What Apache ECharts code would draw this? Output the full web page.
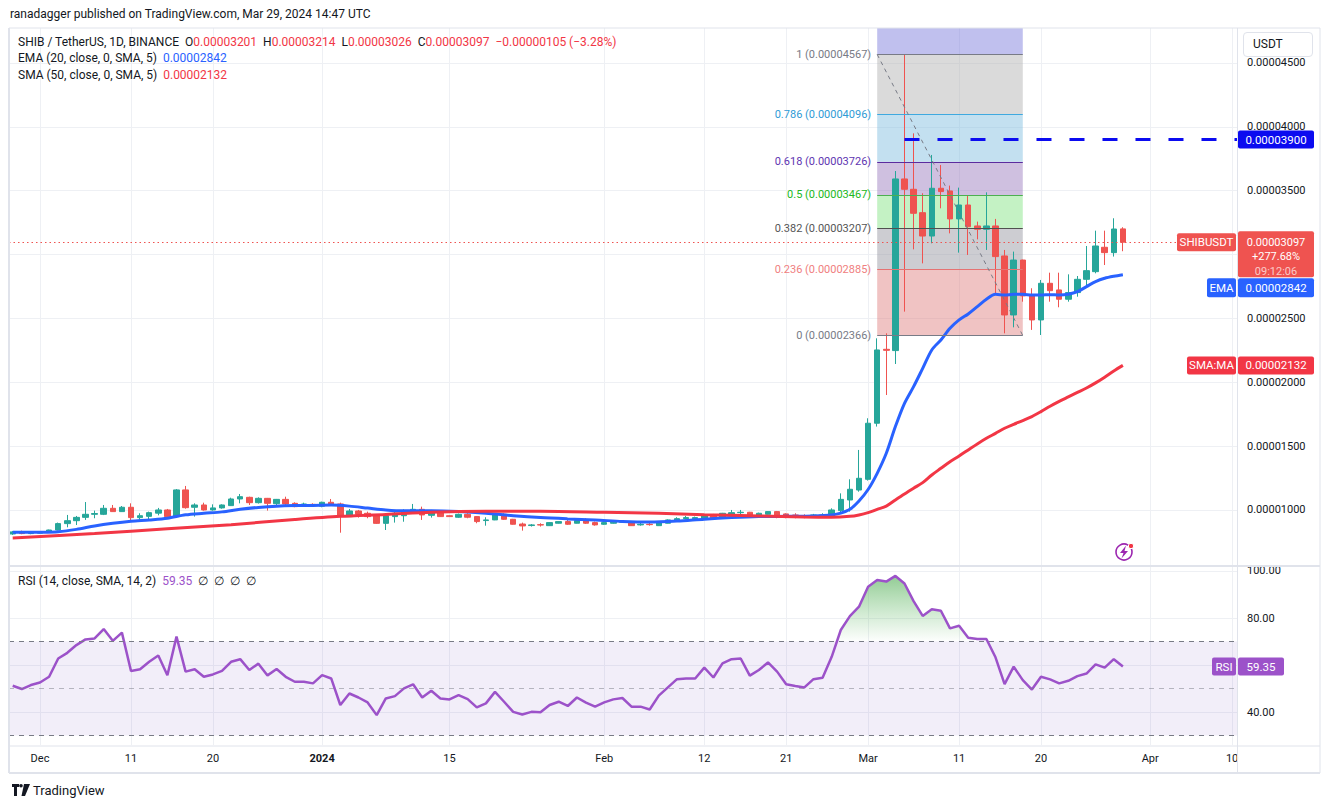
<!DOCTYPE html>
<html>
<head>
<meta charset="utf-8">
<title>SHIB / TetherUS 1D</title>
<script src="https://cdn.jsdelivr.net/npm/echarts@6/dist/echarts.min.js"></script>
<style>
  html, body { margin: 0; padding: 0; background: #fff; }
  #wrap { position: relative; width: 1329px; height: 809px; overflow: hidden; font-family: Roboto, 'Liberation Sans', sans-serif; color: #131722; }
  #chart { position: absolute; left: 0; top: 0; width: 1329px; height: 809px; }
  .txt { position: absolute; white-space: nowrap; font-size: 12px; line-height: 16px; }
  .red { color: #f23645; }
  .blue { color: #2962ff; }
  .purple { color: #9c52c9; }
  #usdt { position: absolute; left: 1243px; top: 32px; width: 68px; height: 23px; border: 1px solid #e0e3eb; border-radius: 4px; background: #fff; font-size: 12px; line-height: 23px; padding-left: 0; text-indent: 9px; }
</style>
</head>
<body>
<div id="wrap">
  <div id="chart"></div>
  <div class="txt" style="left:10px;top:6px;">ranadagger published on TradingView.com, Mar 29, 2024 14:47 UTC</div>
  <div class="txt" style="left:18px;top:34px;">SHIB / TetherUS, 1D, BINANCE&nbsp; O<span class="red">0.00003201</span>&nbsp; H<span class="red">0.00003214</span>&nbsp; L<span class="red">0.00003026</span>&nbsp; C<span class="red">0.00003097</span>&nbsp; <span class="red">−0.00000105 (−3.28%)</span></div>
  <div class="txt" style="left:18px;top:50px;">EMA (20, close, 0, SMA, 5)&nbsp; <span class="blue">0.00002842</span></div>
  <div class="txt" style="left:18px;top:67px;">SMA (50, close, 0, SMA, 5)&nbsp; <span class="red">0.00002132</span></div>
  <div class="txt" style="left:18px;top:573px;">RSI (14, close, SMA, 14, 2)&nbsp; <span class="purple">59.35</span>&nbsp; ∅&nbsp; ∅&nbsp; ∅&nbsp; ∅</div>
  <div id="usdt">USDT</div>
  <div class="txt" style="left:12px;top:783px;font-size:13px;">
    <svg width="18" height="12" viewBox="0 0 18 12" style="vertical-align:-1px"><path d="M0 0h7v3H5v9H2V3H0z" fill="#131722"/><circle cx="9" cy="1.8" r="1.8" fill="#131722"/><path d="M12 0h6l-5 12h-3.5z" fill="#131722"/></svg>
    TradingView
  </div>
</div>
<script>
// prices are in units of 1e-8 USDT
const START = '2023-11-28';
const X_MIN = -0.407;
const X_MAX = 134.54;
const Y_MIN = 569;
const Y_MAX = 4774;

// daily candles from 2023-11-28 to 2024-03-29: [open, high, low, close]
const ohlc = [
  [812, 835, 805, 828], [828, 838, 810, 815], [815, 822, 810, 818],
  // Dec
  [818, 835, 815, 830], [830, 846, 826, 843], [843, 901, 840, 893], [893, 961, 864, 916],
  [916, 953, 882, 942], [942, 1062, 922, 966], [966, 995, 935, 972], [966, 1039, 960, 1013],
  [1013, 1039, 985, 987], [987, 1031, 985, 1021], [1021, 1052, 908, 940], [940, 974, 922, 955],
  [950, 987, 916, 979], [975, 1016, 958, 1000], [1000, 1008, 945, 948], [948, 1164, 945, 1157],
  [1157, 1188, 1010, 1018], [1021, 1052, 948, 1039], [1039, 1057, 995, 1000], [1000, 1044, 995, 1016],
  [1016, 1044, 1010, 1039], [1034, 1096, 1031, 1086], [1086, 1125, 1052, 1104], [1099, 1104, 1039, 1057],
  [1057, 1099, 1050, 1091], [1091, 1094, 995, 1052], [1049, 1086, 1031, 1083], [1083, 1104, 1039, 1047],
  [1052, 1060, 1021, 1026], [1036, 1057, 1031, 1047], [1044, 1052, 1026, 1034],
  // Jan
  [1029, 1065, 1021, 1060], [1060, 1086, 1036, 1039], [1047, 1057, 822, 948], [948, 1008, 945, 992],
  [992, 1000, 940, 966], [974, 987, 935, 948], [955, 958, 890, 895], [895, 958, 843, 955],
  [948, 1000, 901, 974], [955, 1005, 908, 992], [979, 1047, 979, 1005], [1005, 1026, 922, 961],
  [958, 1000, 940, 987], [984, 995, 945, 948], [955, 958, 945, 948], [943, 972, 938, 966],
  [966, 974, 935, 943], [948, 950, 896, 909], [917, 943, 877, 922], [922, 974, 920, 961],
  [966, 974, 922, 927], [927, 930, 885, 888], [890, 901, 838, 875], [878, 890, 870, 883],
  [885, 896, 870, 882], [877, 904, 875, 901], [896, 912, 894, 909], [909, 922, 883, 888],
  [896, 927, 894, 917], [917, 935, 890, 896], [901, 909, 877, 883],
  // Feb
  [888, 904, 883, 901], [896, 909, 893, 904], [904, 912, 901, 909], [909, 912, 875, 877],
  [883, 909, 877, 888], [888, 901, 877, 885], [877, 912, 875, 909], [896, 927, 894, 922],
  [911, 943, 909, 932], [932, 953, 927, 940], [932, 948, 930, 940], [927, 966, 922, 956],
  [964, 969, 927, 935], [935, 977, 932, 974], [966, 1000, 964, 979], [979, 1000, 966, 982],
  [982, 985, 940, 943], [953, 979, 950, 974], [966, 990, 964, 987], [987, 992, 935, 953],
  [969, 974, 935, 943], [961, 974, 935, 948], [953, 966, 935, 943], [943, 969, 940, 961],
  [953, 974, 950, 961], [950, 1013, 948, 1000], [995, 1130, 975, 1083], [1078, 1240, 987, 1162],
  [1156, 1470, 1143, 1248],
  // Mar
  [1240, 1718, 1230, 1679], [1679, 2344, 1653, 2253], [2258, 2383, 1900, 2250], [2248, 3654, 2143, 3592],
  [3592, 4567, 2553, 3511], [3511, 3949, 3041, 3323], [3328, 3480, 2931, 3145], [3145, 3780, 3088, 3519],
  [3519, 3701, 3362, 3493], [3498, 3540, 3166, 3279], [3279, 3524, 3015, 3388], [3388, 3466, 2997, 3218],
  [3224, 3258, 3119, 3198], [3198, 3487, 3036, 3224], [3224, 3279, 2696, 2984], [2989, 3036, 2383, 2527],
  [2527, 3023, 2430, 2957], [2957, 2960, 2631, 2676], [2684, 2736, 2410, 2488], [2488, 2801, 2370, 2775],
  [2775, 2858, 2631, 2717], [2723, 2858, 2587, 2650], [2650, 2845, 2631, 2702], [2702, 2832, 2670, 2806],
  [2806, 3067, 2749, 2874], [2866, 3187, 2853, 3067], [3057, 3187, 2918, 3015], [3015, 3284, 2984, 3200],
  [3201, 3214, 3026, 3097]
];

// EMA 20
const ema20Pts = [
  ['2023-11-28', 825], ['2023-12-01', 826], ['2023-12-03', 830], ['2023-12-05', 848], ['2023-12-07', 875],
  ['2023-12-09', 896], ['2023-12-11', 912], ['2023-12-13', 922], ['2023-12-15', 935], ['2023-12-17', 962],
  ['2023-12-19', 974], ['2023-12-21', 985], ['2023-12-23', 1005], ['2023-12-25', 1020], ['2023-12-27', 1030],
  ['2023-12-29', 1034], ['2023-12-31', 1035], ['2024-01-02', 1038], ['2024-01-04', 1030], ['2024-01-06', 1015],
  ['2024-01-08', 1000], ['2024-01-10', 993], ['2024-01-13', 993], ['2024-01-16', 987], ['2024-01-19', 974],
  ['2024-01-22', 955], ['2024-01-25', 940], ['2024-01-28', 930], ['2024-01-31', 922], ['2024-02-03', 910],
  ['2024-02-06', 905], ['2024-02-09', 913], ['2024-02-12', 928], ['2024-02-15', 940], ['2024-02-18', 948],
  ['2024-02-21', 950], ['2024-02-24', 953], ['2024-02-26', 961], ['2024-02-27', 975], ['2024-02-28', 1005],
  ['2024-02-29', 1070], ['2024-03-01', 1160], ['2024-03-02', 1287], ['2024-03-03', 1444], ['2024-03-04', 1653],
  ['2024-03-05', 1835], ['2024-03-06', 1966], ['2024-03-07', 2109], ['2024-03-08', 2253], ['2024-03-09', 2331],
  ['2024-03-10', 2422], ['2024-03-11', 2488], ['2024-03-12', 2535], ['2024-03-13', 2592], ['2024-03-14', 2650],
  ['2024-03-15', 2689], ['2024-03-16', 2683], ['2024-03-17', 2689], ['2024-03-18', 2689], ['2024-03-19', 2683],
  ['2024-03-20', 2683], ['2024-03-21', 2686], ['2024-03-22', 2683], ['2024-03-23', 2689], ['2024-03-24', 2709],
  ['2024-03-25', 2749], ['2024-03-26', 2788], ['2024-03-27', 2814], ['2024-03-28', 2830], ['2024-03-29', 2842]
];

// SMA 50
const sma50Pts = [
  ['2023-11-28', 780], ['2023-12-07', 815], ['2023-12-15', 852], ['2023-12-22', 885], ['2023-12-29', 925],
  ['2024-01-03', 950], ['2024-01-08', 965], ['2024-01-13', 983], ['2024-01-19', 990], ['2024-01-25', 990],
  ['2024-02-01', 982], ['2024-02-07', 974], ['2024-02-12', 963], ['2024-02-18', 953], ['2024-02-23', 945],
  ['2024-02-26', 943], ['2024-02-28', 950], ['2024-02-29', 961], ['2024-03-01', 979], ['2024-03-02', 1005],
  ['2024-03-03', 1030], ['2024-03-04', 1078], ['2024-03-05', 1125], ['2024-03-06', 1170], ['2024-03-07', 1214],
  ['2024-03-08', 1274], ['2024-03-09', 1326], ['2024-03-10', 1378], ['2024-03-11', 1423], ['2024-03-12', 1470],
  ['2024-03-13', 1517], ['2024-03-14', 1561], ['2024-03-15', 1600], ['2024-03-16', 1640], ['2024-03-17', 1671],
  ['2024-03-18', 1700], ['2024-03-19', 1731], ['2024-03-20', 1770], ['2024-03-21', 1812], ['2024-03-22', 1850],
  ['2024-03-23', 1885], ['2024-03-24', 1920], ['2024-03-25', 1955], ['2024-03-26', 1995], ['2024-03-27', 2040],
  ['2024-03-28', 2088], ['2024-03-29', 2132]
];

// RSI 14, one value per candle
const rsi14 = [
  51.2, 49.8, 51.5,
  52.6, 55.0, 62.8, 65.2, 68.5, 70.9, 71.3, 75.3, 70.3, 73.8, 57.5, 58.2, 61.4, 64.1, 55.7, 72.1,
  57.2, 58.2, 55.0, 56.0, 57.5, 61.4, 62.5, 57.9, 60.6, 55.6, 58.3, 55.0, 52.9, 52.9, 52.2,
  55.7, 54.3, 43.0, 47.9, 46.2, 44.1, 38.7, 45.8, 46.8, 50.1, 51.8, 46.2, 49.1, 45.8, 45.4, 47.2,
  45.5, 42.0, 43.7, 48.6, 44.4, 40.1, 39.0, 40.1, 39.9, 43.0, 44.4, 42.6, 46.2, 44.0, 42.3,
  44.1, 45.4, 46.0, 42.3, 42.3, 41.1, 47.0, 50.5, 54.0, 54.3, 54.3, 58.9, 54.7, 60.7, 62.5,
  62.8, 55.5, 57.9, 61.1, 57.2, 51.8, 51.1, 50.5, 54.0, 54.6, 63.5, 74.9, 80.8, 84.8,
  93.3, 96.2, 95.5, 97.9, 94.7, 87.2, 80.9, 83.7, 83.1, 75.6, 76.7, 71.6, 71.1, 71.1, 63.3,
  51.9, 59.3, 53.6, 49.6, 55.0, 53.9, 52.2, 53.3, 55.3, 56.4, 60.3, 58.9, 62.5, 59.35
];

const xTicks = [
  ['2023-12-01', 'Dec'], ['2023-12-11', '11'], ['2023-12-20', '20'], ['2024-01-01', '2024'],
  ['2024-01-15', '15'], ['2024-02-01', 'Feb'], ['2024-02-12', '12'], ['2024-02-21', '21'],
  ['2024-03-01', 'Mar'], ['2024-03-11', '11'], ['2024-03-20', '20'], ['2024-04-01', 'Apr'], ['2024-04-10', '10']
];
// grid lines; the 3000 and 60 labels sit under the price / RSI tags, so they are not printed
const priceTicks = [1000, 1500, 2000, 2500, 3000, 3500, 4000, 4500];
const priceLabels = [1000, 1500, 2000, 2500, 3500, 4000, 4500];
const rsiTicks = [40, 60, 80, 100];
const rsiLabels = [40, 80, 100];

const fibRatios = ['0', '0.236', '0.382', '0.5', '0.618', '0.786', '1'];
const fibPrices = [2366, 2885, 3207, 3467, 3726, 4096, 4567];
const FIB_FROM = '2024-03-02';
const FIB_TO = '2024-03-18';
const RES_FROM = '2024-03-05';
const RESISTANCE = 3900;
const LAST = { price: 3097, change: '+277.68%', timer: '09:12:06', ema: 2842, sma: 2132, rsi: 59.35 };

const UP = '#26a69a';
const DOWN = '#ef5350';
const GRID = '#eef0f4';
const FRAME = '#e0e3eb';
const RSI_COLOR = '#9c52c9';
const FIB_LINE = ['#787b86', '#e57373', '#505050', '#4caf50', '#5b2c9f', '#3fa9df', '#787b86'];
const FIB_TEXT = ['#787b86', '#f08080', '#555555', '#22b822', '#5e35b1', '#2f9bd6', '#787b86'];
const FIB_FILL = ['rgba(222,122,122,0.45)', 'rgba(144,144,155,0.45)', 'rgba(124,226,124,0.45)',
  'rgba(148,115,186,0.45)', 'rgba(122,186,222,0.45)', 'rgba(173,173,173,0.45)', 'rgba(115,115,217,0.45)'];

function dayIndex(s) {
  const [y, m, d] = s.split('-').map(Number);
  const [y0, m0, d0] = START.split('-').map(Number);
  return Math.round((Date.UTC(y, m - 1, d) - Date.UTC(y0, m0 - 1, d0)) / 86400000);
}
const fmtPrice = v => (v * 1e-8).toFixed(8);

const tickIdx = xTicks.map(t => dayIndex(t[0]));
const tickName = {};
xTicks.forEach(t => { tickName[dayIndex(t[0])] = t[1]; });

const candleData = ohlc.map((r, i) => [i, r[0], r[3], r[2], r[1]]);
const emaData = ema20Pts.map(p => [dayIndex(p[0]), p[1]]);
const smaData = sma50Pts.map(p => [dayIndex(p[0]), p[1]]);
const rsiData = rsi14.map((v, i) => [i, v]);

const f0 = dayIndex(FIB_FROM), f1 = dayIndex(FIB_TO);
const fibZones = fibPrices.map((p, i) => [
  { coord: [f0, p], itemStyle: { color: FIB_FILL[i] } },
  { coord: [f1, i < fibPrices.length - 1 ? fibPrices[i + 1] : Y_MAX] }
]);
const fibLines = fibPrices.map((p, i) => [
  {
    coord: [f0, p],
    lineStyle: { color: FIB_LINE[i], width: 1, type: 'solid' },
    label: { show: true, position: 'start', distance: 6, color: FIB_TEXT[i], fontSize: 11, fontFamily: 'Roboto',
      formatter: `${fibRatios[i]} (${fmtPrice(p)})` }
  },
  { coord: [f1, p] }
]);
fibLines.push([
  { coord: [f0, fibPrices[6]], lineStyle: { color: '#787b86', width: 1, type: [4, 4] }, label: { show: false } },
  { coord: [f1, fibPrices[0]] }
]);

const chart = echarts.init(document.getElementById('chart'), null, { renderer: 'svg' });

const xBase = {
  type: 'value', min: X_MIN, max: X_MAX,
  axisLine: { show: false },
  axisTick: { show: false, customValues: tickIdx },
  splitLine: { show: true, lineStyle: { color: GRID, width: 1 } }
};
const yLabel = { color: '#131722', fontSize: 11, fontFamily: 'Roboto', margin: 10 };

const option = {
  animation: false,
  backgroundColor: '#fff',
  grid: [
    { left: 9, top: 28, width: 1228, height: 537 },
    { left: 9, top: 567, width: 1228, height: 178 }
  ],
  xAxis: [
    Object.assign({}, xBase, { gridIndex: 0, axisLabel: { show: false } }),
    Object.assign({}, xBase, {
      gridIndex: 1,
      axisLabel: {
        show: true, customValues: tickIdx, color: '#131722', fontSize: 11, fontFamily: 'Roboto', margin: 8,
        formatter: v => (tickName[v] === '2024' ? '{b|2024}' : (tickName[v] || '')),
        rich: { b: { fontWeight: 'bold', fontSize: 11, fontFamily: 'Roboto', color: '#131722' } }
      }
    })
  ],
  yAxis: [
    {
      type: 'value', gridIndex: 0, position: 'right', min: Y_MIN, max: Y_MAX, splitNumber: 8,
      axisLine: { show: false }, axisTick: { show: false, customValues: priceTicks },
      splitLine: { lineStyle: { color: GRID } },
      axisLabel: Object.assign({ customValues: priceLabels, formatter: fmtPrice }, yLabel)
    },
    {
      type: 'value', gridIndex: 1, position: 'right', min: 26, max: 101.7, splitNumber: 4,
      axisLine: { show: false }, axisTick: { show: false, customValues: rsiTicks },
      splitLine: { lineStyle: { color: GRID } },
      axisLabel: Object.assign({ customValues: rsiLabels, formatter: v => v.toFixed(2) }, yLabel)
    }
  ],
  series: [
    {
      name: 'fib', type: 'line', xAxisIndex: 0, yAxisIndex: 0, data: [], z: 1, silent: true,
      markArea: { silent: true, data: fibZones },
      markLine: { silent: true, symbol: ['none', 'none'], data: fibLines }
    },
    {
      name: 'SHIBUSDT', type: 'candlestick', xAxisIndex: 0, yAxisIndex: 0, z: 2,
      encode: { x: 0, y: [1, 2, 3, 4] },
      data: candleData, barWidth: 6,
      itemStyle: { color: UP, color0: DOWN, borderColor: UP, borderColor0: DOWN, borderWidth: 1 },
      markLine: {
        silent: true, symbol: ['none', 'none'], label: { show: false },
        data: [{ yAxis: LAST.price, lineStyle: { color: DOWN, width: 1, type: [1.5, 3] } }]
      }
    },
    {
      name: 'EMA', type: 'line', xAxisIndex: 0, yAxisIndex: 0, z: 3, data: emaData,
      smooth: 0.3, showSymbol: false, lineStyle: { color: '#2962ff', width: 3 }
    },
    {
      name: 'SMA', type: 'line', xAxisIndex: 0, yAxisIndex: 0, z: 3, data: smaData,
      smooth: 0.3, showSymbol: false, lineStyle: { color: '#f23645', width: 3 }
    },
    {
      name: 'resistance', type: 'line', xAxisIndex: 0, yAxisIndex: 0, z: 5, data: [], silent: true,
      markLine: {
        silent: true, symbol: ['none', 'none'], label: { show: false },
        data: [[
          { coord: [dayIndex(RES_FROM), RESISTANCE], lineStyle: { color: '#0b0bf0', width: 3, type: [15, 18] } },
          { coord: [X_MAX, RESISTANCE] }
        ]]
      }
    },
    {
      id: 'rsiFill', name: 'rsiFill', type: 'line', xAxisIndex: 1, yAxisIndex: 1, z: 1, data: rsiData,
      showSymbol: false, silent: true, lineStyle: { width: 0 },
      areaStyle: { origin: 70, color: 'rgba(0,0,0,0)' },
      markArea: { silent: true, itemStyle: { color: 'rgba(126,87,194,0.1)' }, data: [[{ yAxis: 30 }, { yAxis: 70 }]] },
      markLine: {
        silent: true, symbol: ['none', 'none'], label: { show: false },
        data: [
          { yAxis: 70, lineStyle: { color: '#787b86', width: 1, type: [5, 5] } },
          { yAxis: 50, lineStyle: { color: 'rgba(120,123,134,0.5)', width: 1, type: [5, 5] } },
          { yAxis: 30, lineStyle: { color: '#787b86', width: 1, type: [5, 5] } }
        ]
      }
    },
    {
      name: 'RSI', type: 'line', xAxisIndex: 1, yAxisIndex: 1, z: 3, data: rsiData,
      showSymbol: false, lineStyle: { color: RSI_COLOR, width: 2.5 }
    }
  ]
};

chart.setOption(option);

// pixel helpers from the chart's own scales
const yPx = v => chart.convertToPixel({ yAxisIndex: 0 }, v);
const rPx = v => chart.convertToPixel({ yAxisIndex: 1 }, v);

const g = [];
function box(x, y, w, h, fill) {
  g.push({ type: 'rect', z: 100, shape: { x, y, width: w, height: h, r: 2 }, style: { fill } });
}
function label(x, y, text, fill, size) {
  g.push({ type: 'text', z: 101, x, y, style: { text, fill: fill || '#fff', fontSize: size || 11.5, fontFamily: 'Roboto', align: 'center', verticalAlign: 'middle' } });
}
function line(x1, y1, x2, y2, w) {
  g.push({ type: 'line', z: 90, shape: { x1, y1, x2, y2 }, style: { stroke: FRAME, lineWidth: w || 1 } });
}

// frame
line(9, 28, 1320, 28, 1);
line(9, 28, 9, 773, 2);
line(1320, 28, 1320, 773, 1);
line(9, 773, 1320, 773, 2);
line(1237.5, 28, 1237.5, 773, 1);
line(9, 566, 1320, 566, 2);
line(9, 746, 1320, 746, 1);

// resistance tag
const yr = yPx(RESISTANCE);
box(1238, yr - 9, 76, 18, '#0b0bf0');
label(1276, yr, fmtPrice(RESISTANCE));

// last price tag (three stacked lines)
const yp = yPx(LAST.price);
box(1177, yp - 9, 59, 18, DOWN);
label(1206.5, yp, 'SHIBUSDT');
box(1238, yp - 11, 76, 46, DOWN);
label(1276, yp, fmtPrice(LAST.price), '#fff', 11);
label(1276, yp + 14.5, LAST.change, '#fff', 11);
label(1276, yp + 29, LAST.timer, 'rgba(255,255,255,0.7)', 11);

// EMA tag (pushed below the price tag)
const ye = Math.max(yPx(LAST.ema), yp + 35 + 10.5);
box(1207, ye - 9.5, 29, 19, '#2962ff');
label(1221.5, ye, 'EMA');
box(1238, ye - 9.5, 76, 19, '#2962ff');
label(1276, ye, fmtPrice(LAST.ema));

// SMA tag
const ys = yPx(LAST.sma);
box(1187, ys - 9, 49, 18, '#f23645');
label(1211.5, ys, 'SMA:MA');
box(1238, ys - 9, 76, 18, '#f23645');
label(1276, ys, fmtPrice(LAST.sma));

// RSI tag
const yq = rPx(LAST.rsi);
box(1212, yq - 9, 24, 18, RSI_COLOR);
label(1224, yq, 'RSI');
box(1238, yq - 9, 46, 18, RSI_COLOR);
label(1261, yq, LAST.rsi.toFixed(2));

// lightning badge
g.push({ type: 'circle', z: 100, shape: { cx: 1124, cy: 552, r: 8 }, style: { fill: '#fff', stroke: '#9c27b0', lineWidth: 1.6 } });
g.push({ type: 'polygon', z: 101, shape: { points: [[1126, 545.5], [1120, 553], [1123.5, 553], [1121.5, 558.5], [1128, 551], [1124.5, 551]] }, style: { fill: '#9c27b0' } });
g.push({ type: 'circle', z: 102, shape: { cx: 1131, cy: 546, r: 2.6 }, style: { fill: '#f23645', stroke: '#fff', lineWidth: 1 } });

const y100 = rPx(100), y70 = rPx(70);
chart.setOption({
  graphic: g,
  series: [{
    id: 'rsiFill',
    areaStyle: {
      origin: 70,
      color: new echarts.graphic.LinearGradient(0, y100, 0, y70, [
        { offset: 0, color: 'rgba(56,160,60,0.85)' },
        { offset: 0.5, color: 'rgba(76,175,80,0.45)' },
        { offset: 0.98, color: 'rgba(76,175,80,0.03)' },
        { offset: 1, color: 'rgba(76,175,80,0)' }
      ], true)
    }
  }]
});

window.addEventListener('resize', () => chart.resize());
</script>
</body>
</html>
